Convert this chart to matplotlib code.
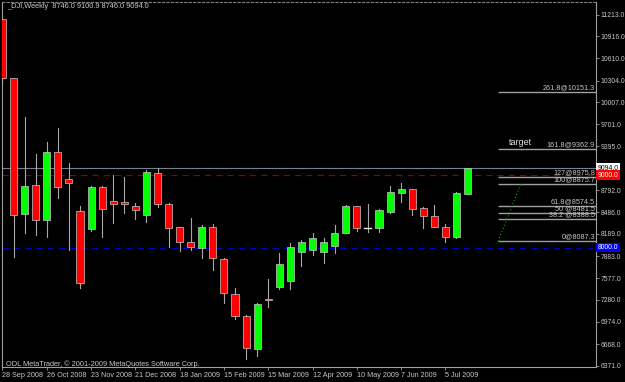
import numpy as np
import matplotlib.pyplot as plt
from matplotlib.patches import Rectangle
import matplotlib.transforms as mtransforms

plt.rcParams['font.family'] = ['Liberation Sans Narrow', 'Liberation Sans', 'DejaVu Sans']

# weekly OHLC of _DJI, week of 28 Sep 2008 .. week of 19 Jul 2009
opens = [11154, 10340, 8460, 8860, 8381, 9323, 8943, 8505, 8252, 8832,
         8643, 8630, 8574, 8450, 9025, 8602, 8280, 8081, 7999, 8280,
         7843, 7360, 7057, 6601, 7295, 7452, 7544, 7935, 7967, 7944,
         8026, 8206, 8570, 8275, 8266, 8495, 8757, 8808, 8546, 8440,
         8280, 8142, 8746.0]
highs = [11160, 10345, 9797, 9291, 9461, 9646, 9172, 8574, 8850, 8850,
         9002, 8970, 8611, 9071, 9094, 8610, 8290, 8404, 8312, 8326,
         7860, 7439, 7070, 7240, 7567, 7930, 8068, 8105, 8197, 8137,
         8312, 8588, 8580, 8602, 8526, 8850, 8887, 8812, 8555, 8588,
         8326, 8771, 9100.9]
lows = [10290, 7875, 8199, 8174, 8142, 8689, 7967, 7439, 8233, 8142,
        8344, 8481, 8391, 8357, 8565, 8004, 7957, 7967, 7852, 7691,
        7240, 7015, 6459, 6505, 7177, 7429, 7429, 7746, 7898, 7784,
        7930, 8197, 8233, 8219, 8219, 8481, 8625, 8450, 8266, 8280,
        8081, 8128, 8746.0]
closes = [10340, 8450, 8847, 8381, 9315, 8832, 8888, 7508, 8832, 8533,
          8602, 8602, 8519, 9039, 8597, 8275, 8073, 8004, 8280, 7852,
          7370, 7061, 6619, 7222, 7273, 7774, 8013, 8081, 8128, 8073,
          8206, 8578, 8266, 8277, 8519, 8771, 8808, 8533, 8430, 8288,
          8142, 8749, 9094.0]

date_idx = [0, 4, 8, 12, 16, 20, 24, 28, 32, 36, 40]
date_labels = ['28 Sep 2008', '26 Oct 2008', '23 Nov 2008', '21 Dec 2008',
               '18 Jan 2009', '15 Feb 2009', '15 Mar 2009', '12 Apr 2009',
               '10 May 2009', '7 Jun 2009', '5 Jul 2009']
price_ticks = [11213.0, 10916.0, 10610.0, 10304.0, 10007.0, 9701.0, 9395.0,
               8792.0, 8486.0, 8189.0, 7883.0, 7577.0, 7280.0, 6974.0,
               6668.0, 6371.0]

fib_labels = ['0@8087.3', '38.2 @8388.5', '50 @8481.5', '61.8@8574.5',
              '100@8875.7', '127@8975.8', '161.8@9362.9', '261.8@10151.3']
fib_values = [8087.3, 8388.5, 8481.5, 8574.5, 8875.7, 8975.8, 9362.9, 10151.3]

last_price = 9094.0
red_level = 9000.0
blue_level = 8000.0

fig = plt.figure(figsize=(6.25, 3.82), dpi=100, facecolor='black')
ax = fig.add_axes([2/625, 1 - 367/382, 594/625, 365/382])
ax.set_facecolor('black')
ax.set_xlim(-0.045, 53.6)
ax.set_ylim(6353, 11388)

# candles
w = 0.64
for i in range(len(opens)):
    o, h, l, c = opens[i], highs[i], lows[i], closes[i]
    ax.plot([i, i], [l, h], color='#a8a8a8', lw=0.8, zorder=3)
    if abs(c - o) < 8:
        ax.plot([i - w/2, i + w/2], [c, c], color='#e0e0e0', lw=1.0, zorder=4)
        continue
    col = '#00ff00' if c > o else '#ff0000'
    ax.add_patch(Rectangle((i - w/2, min(o, c)), w, abs(c - o), facecolor=col,
                           edgecolor='#c8c8c8', lw=0.5, zorder=4))

# level lines
ax.axhline(last_price, color='#788090', lw=0.8, zorder=2)
ax.axhline(red_level, color='#900000', lw=0.9, dashes=(5, 4), zorder=2)
ax.axhline(blue_level, color='#0000c0', lw=0.9, dashes=(5, 4), zorder=2)

# fibonacci expansion
fx0 = 44.76
ax.hlines(fib_values, fx0, 53.6, color='#a0a0a0', lw=1.0, zorder=2)
for lab, v in zip(fib_labels, fib_values):
    ax.text(53.5, v + 12, lab, color='#c8c8c8', fontsize=5.2, ha='right',
            va='bottom', zorder=5)
ax.plot([fx0, 46.8], [fib_values[0], fib_values[4]], color='#00b000', lw=0.8,
        ls=(0, (1, 2)), zorder=2)
ax.text(46.8, 9443, 'target', color='#e0e0e0', fontsize=6.5, ha='center',
        va='center', family=['Liberation Sans', 'DejaVu Sans'])

# frame
for s in ['left', 'right', 'bottom']:
    ax.spines[s].set_color('#a0a0a0')
    ax.spines[s].set_linewidth(0.8)
ax.spines['top'].set_color('#808080')
ax.spines['top'].set_linestyle((0, (2, 2)))
ax.spines['top'].set_linewidth(0.8)

ax.set_xticks(date_idx)
ax.set_xticklabels(date_labels, fontsize=5.2, color='#c8c8c8', ha='left')
ax.tick_params(axis='x', colors='#a0a0a0', length=2, width=0.6, pad=1.5,
               labelcolor='#c8c8c8')

ax.yaxis.tick_right()
ax.set_yticks(price_ticks)
ax.set_yticklabels([f'{v:.1f}' for v in price_ticks], fontsize=4.9)
ax.tick_params(axis='y', colors='#a0a0a0', length=2, width=0.6, pad=1.2,
               labelcolor='#c8c8c8')

trans = mtransforms.blended_transform_factory(ax.transAxes, ax.transData)
for v, fc, tc in [(last_price, 'white', 'black'), (red_level, '#ff0000', 'white'),
                  (blue_level, '#0000ff', 'white')]:
    ax.text(1.003, v, f'{v:.1f}', transform=trans, fontsize=4.9, color=tc,
            ha='left', va='center', clip_on=False, zorder=6,
            bbox=dict(boxstyle='square,pad=0.2', fc=fc, ec='none'))

ax.text(5/594, 1 - 5/365, '_DJI,Weekly  8746.0 9100.9 8746.0 9094.0',
        transform=ax.transAxes, color='#c8c8c8', fontsize=5.3, va='center',
        ha='left')
ax.text(4/594, 3/365, 'ODL MetaTrader, \u00a9 2001-2009 MetaQuotes Software Corp.',
        transform=ax.transAxes, color='#c8c8c8', fontsize=5.3, va='center',
        ha='left')

fig.savefig('out.png', dpi=100, facecolor='black')
